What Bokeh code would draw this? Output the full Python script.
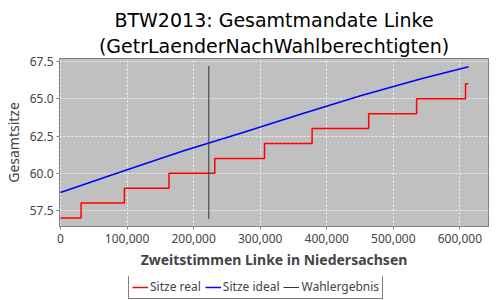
from bokeh.plotting import figure
from bokeh.layouts import column
from bokeh.models import Title, Legend, LegendItem, FixedTicker, NumeralTickFormatter, Range1d
from bokeh.embed import file_html
from bokeh.resources import INLINE

# --- data ---
real_x = [0, 30900, 96000, 163000, 231800, 306500, 378000, 463000, 535000, 608500, 612500]
real_y = [57, 58, 59, 60, 61, 62, 63, 64, 65, 66, 66]

ideal_x = [0, 79000, 184000, 273000, 363000, 452000, 542000, 613000]
ideal_y = [58.71, 59.92, 61.49, 62.72, 63.99, 65.22, 66.34, 67.14]

wahl_x = [222800, 222800]
wahl_y = [56.95, 67.2]

x_ticks = [0, 100000, 200000, 300000, 400000, 500000, 600000]
y_ticks = [57.5, 60.0, 62.5, 65.0, 67.5]

series_labels = ["Sitze real", "Sitze ideal", "Wahlergebnis"]

FONT = "Noto Sans"
TFONT = "DejaVu Sans"
RED, BLUE, BLACK = "red", "blue", "#333333"

p = figure(width=500, height=276, output_backend="svg", toolbar_location=None,
           x_range=Range1d(-1500, 643000), y_range=Range1d(56.43, 67.7),
           title=None)
p.min_border_left = 56
p.min_border_right = 12
p.min_border_top = 58
p.min_border_bottom = 50
p.background_fill_color = "#c0c0c0"
p.border_fill_color = "white"
p.outline_line_color = "#808080"
p.outline_line_width = 1

t2 = Title(text="(GetrLaenderNachWahlberechtigten)", align="center",
           text_font=TFONT, text_font_size="19px", text_font_style="normal",
           text_color="black", standoff=4)
t1 = Title(text="BTW2013: Gesamtmandate Linke", align="center",
           text_font=TFONT, text_font_size="19px", text_font_style="normal",
           text_color="black", standoff=0)
p.add_layout(t2, "above")
p.add_layout(t1, "above")

p.step(real_x, real_y, mode="after", line_color=RED, line_width=1.5)
p.line(ideal_x, ideal_y, line_color=BLUE, line_width=1.5)
p.line(wahl_x, wahl_y, line_color=BLACK, line_width=1)

for g in (p.xgrid, p.ygrid):
    g.grid_line_color = "white"
    g.grid_line_dash = "2 2"
    g.grid_line_alpha = 0.8
p.xgrid.ticker = FixedTicker(ticks=x_ticks)
p.ygrid.ticker = FixedTicker(ticks=y_ticks)

p.xaxis.ticker = FixedTicker(ticks=x_ticks)
p.yaxis.ticker = FixedTicker(ticks=y_ticks)
p.xaxis.formatter = NumeralTickFormatter(format="0,0")
p.yaxis.formatter = NumeralTickFormatter(format="0.0")
for ax in (p.xaxis, p.yaxis):
    ax.axis_line_color = "#808080"
    ax.major_tick_line_color = "#808080"
    ax.minor_tick_line_color = None
    ax.major_tick_out = 3
    ax.major_tick_in = 0
    ax.major_label_text_font = FONT
    ax.major_label_text_font_size = "12px"
    ax.major_label_text_color = "#444444"
    ax.axis_label_text_font = FONT
    ax.axis_label_text_font_size = "14px"
    ax.axis_label_text_color = "#444444"
    ax.axis_label_standoff = 4
p.xaxis.axis_label = "Zweitstimmen Linke in Niedersachsen"
p.xaxis.axis_label_text_font_style = "bold"
p.yaxis.axis_label = "Gesamtsitze"
p.yaxis.axis_label_text_font_style = "normal"
p.xaxis.major_label_standoff = 4
p.yaxis.major_label_standoff = 3

# legend in a separate strip below the chart (column aligns its frame with the chart's frame)
lg = figure(width=500, height=24, output_backend="svg", toolbar_location=None,
            x_range=Range1d(0, 1), y_range=Range1d(0, 1), title=None,
            x_axis_location=None, y_axis_location=None)
lg.grid.visible = False
lg.outline_line_color = None
lg.min_border = 0
lg.background_fill_color = "white"
lr = lg.line(real_x[:1], real_y[:1], line_color=RED, line_width=1.5)
lb = lg.line(ideal_x[:1], ideal_y[:1], line_color=BLUE, line_width=1.5)
lk = lg.line(wahl_x[:1], wahl_y[:1], line_color=BLACK, line_width=1)

legend = Legend(items=[
    LegendItem(label=series_labels[0], renderers=[lr]),
    LegendItem(label=series_labels[1], renderers=[lb]),
    LegendItem(label=series_labels[2], renderers=[lk]),
], orientation="horizontal", location=(69, 1))
legend.label_text_font = FONT
legend.label_text_font_size = "12px"
legend.label_text_color = "#444444"
legend.border_line_color = "black"
legend.border_line_width = 1
legend.background_fill_color = "white"
legend.glyph_width = 16
legend.glyph_height = 12
legend.label_standoff = 2
legend.spacing = 4
legend.padding = 3
legend.margin = 0
legend.label_height = 12
lg.add_layout(legend, "center")

open("out.html", "w").write(file_html(column(p, lg, spacing=0), INLINE))
